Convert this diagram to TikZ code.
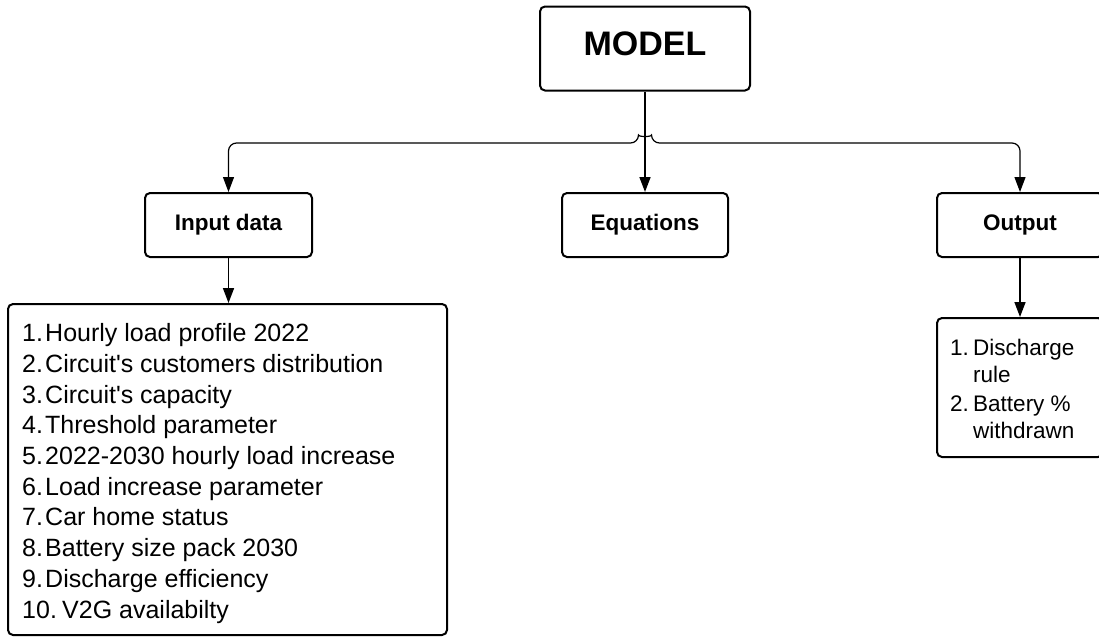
\documentclass[tikz,border=0pt]{standalone}
\usepackage{fontspec}
\setmainfont{Liberation Sans}
\usetikzlibrary{arrows.meta}
\begin{document}
\begin{tikzpicture}[x=1pt,y=-1pt,
  box/.style={draw, line width=2pt, rounded corners=5pt, inner sep=0pt},
  head/.style={font=\fontsize{22.5}{27}\selectfont\bfseries},
  tip/.style={},
  conn/.style={line width=1.6pt, -{Triangle[length=15pt,width=11pt]}},
  item/.style={anchor=base west, inner sep=0pt, font=\fontsize{25}{30}\selectfont},
  oitem/.style={anchor=base west, inner sep=0pt, font=\fontsize{22.5}{27}\selectfont}]
\useasboundingbox (0,0) rectangle (1099,637);
\fill[white] (0,0) rectangle (1099,637);
\clip (0,0) rectangle (1099,637);
% boxes
\node[box, minimum width=210pt, minimum height=84pt, font=\fontsize{34}{40}\selectfont\bfseries, text depth=10pt] (model) at (645,48.5) {MODEL};
\node[box, head, minimum width=167pt, minimum height=64pt] (input) at (228.5,225) {Input data};
\node[box, head, minimum width=166pt, minimum height=64pt] (eq) at (645,225) {Equations};
\node[box, head, minimum width=166pt, minimum height=64pt] (out) at (1020,225) {Output};
\node[box, minimum width=439pt, minimum height=331pt] (inlist) at (227.5,469.5) {};
\node[box, minimum width=166pt, minimum height=139pt] (outlist) at (1020,387.5) {};
% connectors
\draw[conn] (model.south) -- (eq.north);
\draw[conn] (input.south) -- (input.south |- inlist.north);
\draw[conn] (out.south) -- (outlist.north);
\coordinate (jl) at (638.5,143);
\coordinate (jr) at (651.5,143);
\draw[line width=1.2pt, {Triangle[length=15pt,width=11pt]}-{Triangle[length=15pt,width=11pt]}, rounded corners=8pt]
  (input.north) |- (jl) .. controls +(0,-6) and +(0,-6) .. (jr) -| (out.north);
% input list
\foreach \i/\t in {1/Hourly load profile 2022,
                   2/Circuit\textquotesingle s customers distribution,
                   3/Circuit\textquotesingle s capacity,
                   4/Threshold parameter,
                   5/2022-2030 hourly load increase,
                   6/Load increase parameter,
                   7/Car home status,
                   8/Battery size pack 2030,
                   9/Discharge efficiency}{
  \node[item] (num\i) at (22,{341.7+30.7*(\i-1)}) {\i.};
  \node[item] (txt\i) at (45,{341.7+30.7*(\i-1)}) {\t};
}
\node[item] (num10) at (22,618) {10.};
\node[item] (txt10) at (62,618) {V2G availabilty};
% output list
\node[oitem] (onum1) at (950,355) {1.};
\node[oitem] (otxt1a) at (973,355) {Discharge};
\node[oitem] (otxt1b) at (973,382) {rule};
\node[oitem] (onum2) at (950,411) {2.};
\node[oitem] (otxt2a) at (973,411) {Battery \%};
\node[oitem] (otxt2b) at (973,438) {withdrawn};
\end{tikzpicture}
\end{document}
